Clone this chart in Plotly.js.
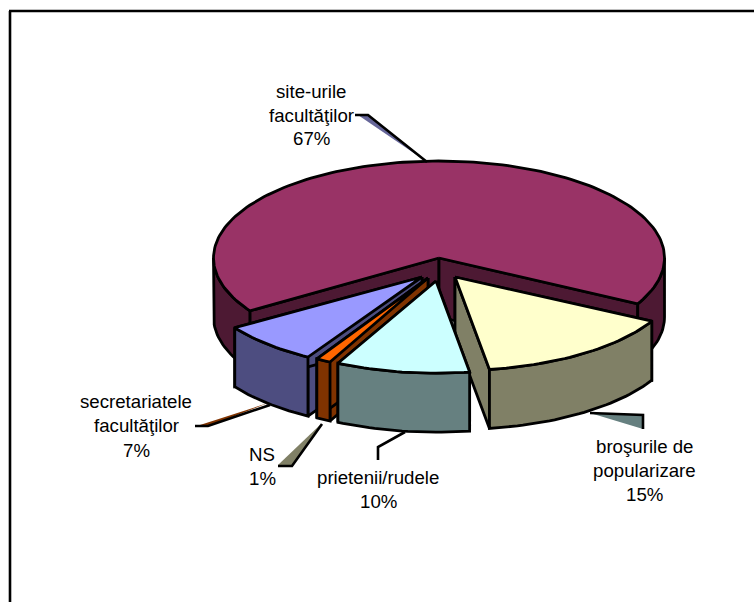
<!DOCTYPE html>
<html>
<head>
<meta charset="utf-8">
<script src="https://cdn.plot.ly/plotly-3.0.1.min.js"></script>
<style>html,body{margin:0;padding:0;background:#fff;overflow:hidden}#chart{width:754px;height:602px}</style>
</head>
<body>
<div id="chart"></div>
<script>
// Data, in order round the pie (clockwise)
const categories = ['site-urile facultăţilor', 'broşurile de popularizare', 'prietenii/rudele', 'NS', 'secretariatele facultăţilor'];
const values = [67.0, 14.7, 9.9, 1.1, 7.3];
const labelLines = [['site-urile', 'facultăţilor'], ['broşurile de', 'popularizare'], ['prietenii/rudele'], ['NS'], ['secretariatele', 'facultăţilor']];
const topColors = ['#993366', '#FFFFCC', '#CCFFFF', '#FF6600', '#9999FF'];
const sideColors = ['#4D1933', '#808066', '#668080', '#803300', '#4D4D80'];

// Projection of the pie on the page
const RX = 225.5, RY = 97, DEPTH = 59, START = 237;
const slicePlace = [
  {x: 439, y: 258, sx: 1, sy: 1},
  {x: 455, y: 277, sx: 0.99, sy: 0.965},
  {x: 436, y: 281, sx: 0.966, sy: 0.95},
  {x: 428, y: 278, sx: 0.965, sy: 0.97},
  {x: 422, y: 277, sx: 0.99, sy: 0.96}
];
const paintOrder = [0, 1, 4, 3, 2];
const labelPlace = [
  {x: 311, y: [91, 115, 138]},
  {x: 644, y: [446, 470, 494]},
  {x: 378, y: [477, 501]},
  {x: 262, y: [454, 478]},
  {x: 136, y: [401, 425, 450]}
];
const total = values.reduce((a, b) => a + b, 0);
const rad = d => d * Math.PI / 180;
const traces = [];
function poly(pts, fill) {
  traces.push({
    type: 'scatter', mode: 'lines', x: pts.map(p => p[0]), y: pts.map(p => p[1]),
    fill: 'toself', fillcolor: fill, line: {color: '#000', width: 2.8}, hoverinfo: 'skip', showlegend: false
  });
}
function arcPts(p, a, b) {
  const n = Math.max(2, Math.ceil(Math.abs(b - a) / 1.5)), out = [];
  for (let i = 0; i <= n; i++) {
    const t = rad(a + (b - a) * i / n);
    out.push([p.x + RX * p.sx * Math.sin(t), p.y - RY * p.sy * Math.cos(t)]);
  }
  return out;
}
const down = pts => pts.map(q => [q[0], q[1] + DEPTH]);
function wallOuter(p, a, b, col) {
  const top = arcPts(p, a, b);
  poly(top.concat(down(top).reverse(), [top[0]]), col);
}
function wallCut(p, a, col) {
  const e = arcPts(p, a, a)[0], t = [p.x, p.y];
  poly([t, e, [e[0], e[1] + DEPTH], [t[0], t[1] + DEPTH], t], col);
}
const spans = [];
let acc = START;
values.forEach(v => { spans.push([acc, acc + v / total * 360]); acc += v / total * 360; });
paintOrder.forEach(i => {
  const [a, b] = spans[i], p = slicePlace[i];
  wallCut(p, a, sideColors[i]);
  wallCut(p, b, sideColors[i]);
  if (i === 0) {
    wallOuter(p, a, 270, sideColors[i]);
    wallOuter(p, 450, b, sideColors[i]);
  } else {
    wallOuter(p, a, b, sideColors[i]);
  }
  const arc = arcPts(p, a, b);
  poly([[p.x, p.y]].concat(arc, [[p.x, p.y]]), topColors[i]);
});

const annotations = [];
const txt = (s, x, y) => annotations.push({
  text: s, x: x, y: y, xref: 'x', yref: 'y', showarrow: false, xanchor: 'center', yanchor: 'middle',
  font: {family: '"Liberation Sans", Arial, sans-serif', size: 18.67, color: '#000'}
});
values.forEach((v, i) => {
  const pl = labelPlace[i];
  labelLines[i].forEach((s, k) => txt(s, pl.x, pl.y[k]));
  txt(Math.round(v) + '%', pl.x, pl.y[labelLines[i].length]);
});

const ln = {color: '#000', width: 2.6};
const none = {width: 0};
const shape = (path, line, fill) => ({type: 'path', path: path, xref: 'x', yref: 'y', line: line, fillcolor: fill || 'rgba(0,0,0,0)', layer: 'above'});
const shapes = [
  // frame
  {type: 'line', xref: 'x', yref: 'y', x0: 10, y0: 602, x1: 10, y1: 11, line: ln},
  {type: 'line', xref: 'x', yref: 'y', x0: 9, y0: 11, x1: 754, y1: 11, line: ln},
  // leader lines
  shape('M358,115 L368,115 L427,162 Z', none, '#666699'),
  shape('M355,115 L368,115 L427,162', ln),
  shape('M200,425 L268,403 L209,426 Z', none, '#803300'),
  shape('M195,426 L208,426 L270,405', ln),
  shape('M278,465 L321,424 L292,466 Z', none, '#808066'),
  shape('M278,466 L292,466 L322,424', ln),
  shape('M378,460 L378,447 L405,432', ln),
  shape('M590,413 L643,415 L643,429 Z', none, '#668080'),
  shape('M590,413 L643,415 L643,429', ln)
];

Plotly.newPlot('chart', traces, {
  width: 754, height: 602, margin: {l: 0, r: 0, t: 0, b: 0},
  paper_bgcolor: '#fff', plot_bgcolor: '#fff', showlegend: false,
  xaxis: {range: [0, 754], visible: false, fixedrange: true},
  yaxis: {range: [602, 0], visible: false, fixedrange: true},
  annotations: annotations, shapes: shapes
}, {displayModeBar: false, staticPlot: true});
</script>
</body>
</html>
